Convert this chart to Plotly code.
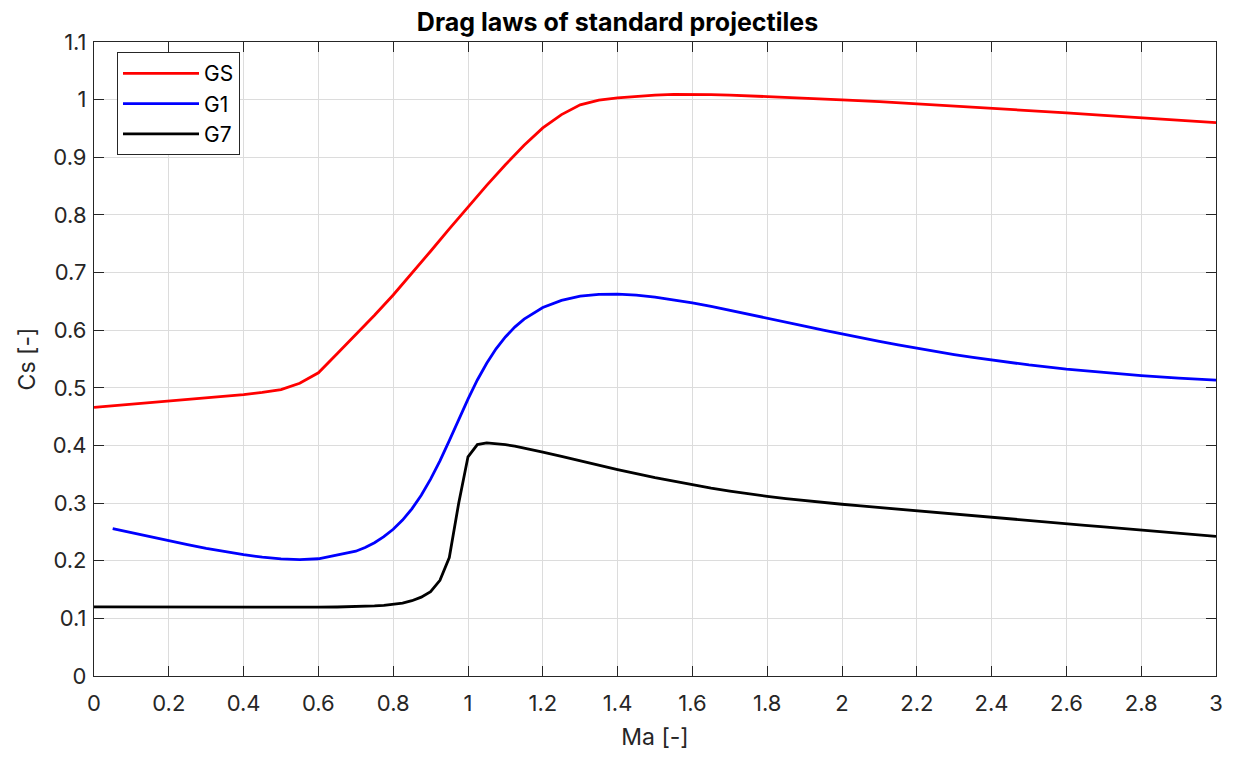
import plotly.graph_objects as go

# GS (standard sphere)
gs_ma = [0.00, 0.05, 0.10, 0.15, 0.20, 0.25, 0.30, 0.35, 0.40, 0.45, 0.50, 0.55, 0.60, 0.65,
         0.70, 0.75, 0.80, 0.85, 0.90, 0.95, 1.00, 1.05, 1.10, 1.15, 1.20, 1.25, 1.30, 1.35,
         1.40, 1.45, 1.50, 1.55, 1.60, 1.65, 1.70, 1.75, 1.80, 1.85, 1.90, 2.00, 2.10, 2.20,
         2.30, 2.40, 2.50, 2.60, 2.70, 2.80, 2.90, 3.00]
gs_cd = [0.4662, 0.4689, 0.4717, 0.4745, 0.4772, 0.4800, 0.4827, 0.4852, 0.4882, 0.4920,
         0.4970, 0.5080, 0.5260, 0.5590, 0.5920, 0.6258, 0.6610, 0.6985, 0.7370, 0.7757,
         0.8140, 0.8512, 0.8870, 0.9210, 0.9510, 0.9740, 0.9910, 0.9990, 1.0030, 1.0060,
         1.0080, 1.0090, 1.0092, 1.0088, 1.0080, 1.0064, 1.0050, 1.0035, 1.0020, 0.9997,
         0.9967, 0.9930, 0.9894, 0.9855, 0.9812, 0.9770, 0.9727, 0.9685, 0.9643, 0.9600]

# G1
g1_ma = [0.05, 0.10, 0.15, 0.20, 0.25, 0.30, 0.35, 0.40, 0.45, 0.50, 0.55, 0.60, 0.70,
         0.725, 0.75, 0.775, 0.80, 0.825, 0.85, 0.875, 0.90, 0.925, 0.95, 0.975, 1.00,
         1.025, 1.05, 1.075, 1.10, 1.125, 1.15, 1.20, 1.25, 1.30, 1.35, 1.40, 1.45, 1.50,
         1.55, 1.60, 1.65, 1.70, 1.75, 1.80, 1.85, 1.90, 1.95, 2.00, 2.05, 2.10, 2.15,
         2.20, 2.25, 2.30, 2.35, 2.40, 2.45, 2.50, 2.60, 2.70, 2.80, 2.90, 3.00]
g1_cd = [0.2558, 0.2487, 0.2413, 0.2344, 0.2278, 0.2214, 0.2155, 0.2104, 0.2061, 0.2032,
         0.2020, 0.2034, 0.2165, 0.2230, 0.2313, 0.2417, 0.2546, 0.2706, 0.2901, 0.3136,
         0.3415, 0.3734, 0.4084, 0.4448, 0.4805, 0.5136, 0.5427, 0.5677, 0.5883, 0.6053,
         0.6191, 0.6393, 0.6518, 0.6589, 0.6621, 0.6625, 0.6607, 0.6573, 0.6528, 0.6474,
         0.6413, 0.6347, 0.6280, 0.6210, 0.6141, 0.6072, 0.6003, 0.5934, 0.5867, 0.5804,
         0.5743, 0.5685, 0.5630, 0.5577, 0.5527, 0.5481, 0.5438, 0.5397, 0.5325, 0.5264,
         0.5211, 0.5168, 0.5133]

# G7
g7_ma = [0.00, 0.05, 0.10, 0.15, 0.20, 0.25, 0.30, 0.35, 0.40, 0.45, 0.50, 0.55, 0.60,
         0.65, 0.70, 0.725, 0.75, 0.775, 0.80, 0.825, 0.85, 0.875, 0.90, 0.925, 0.95,
         0.975, 1.00, 1.025, 1.05, 1.075, 1.10, 1.125, 1.15, 1.20, 1.25, 1.30, 1.35, 1.40,
         1.50, 1.55, 1.60, 1.65, 1.70, 1.75, 1.80, 1.85, 1.90, 1.95, 2.00, 2.05, 2.10,
         2.15, 2.20, 2.25, 2.30, 2.35, 2.40, 2.45, 2.50, 2.55, 2.60, 2.65, 2.70, 2.75,
         2.80, 2.85, 2.90, 2.95, 3.00]
g7_cd = [0.1198, 0.1197, 0.1196, 0.1194, 0.1193, 0.1194, 0.1194, 0.1194, 0.1193, 0.1193,
         0.1194, 0.1193, 0.1194, 0.1197, 0.1202, 0.1207, 0.1215, 0.1226, 0.1242, 0.1266,
         0.1306, 0.1368, 0.1464, 0.1660, 0.2054, 0.2993, 0.3803, 0.4015, 0.4043, 0.4034,
         0.4014, 0.3987, 0.3955, 0.3884, 0.3810, 0.3732, 0.3657, 0.3580, 0.3440, 0.3376,
         0.3315, 0.3260, 0.3209, 0.3160, 0.3117, 0.3078, 0.3042, 0.3010, 0.2980, 0.2951,
         0.2922, 0.2892, 0.2864, 0.2835, 0.2807, 0.2779, 0.2752, 0.2725, 0.2697, 0.2670,
         0.2643, 0.2615, 0.2588, 0.2561, 0.2533, 0.2506, 0.2479, 0.2451, 0.2424]

x_ticks = [0, 0.2, 0.4, 0.6, 0.8, 1, 1.2, 1.4, 1.6, 1.8, 2, 2.2, 2.4, 2.6, 2.8, 3]
x_labels = ["0", "0.2", "0.4", "0.6", "0.8", "1", "1.2", "1.4", "1.6", "1.8", "2",
            "2.2", "2.4", "2.6", "2.8", "3"]
y_ticks = [0, 0.1, 0.2, 0.3, 0.4, 0.5, 0.6, 0.7, 0.8, 0.9, 1, 1.1]
y_labels = ["0", "0.1", "0.2", "0.3", "0.4", "0.5", "0.6", "0.7", "0.8", "0.9", "1", "1.1"]

FONT = "Inter"
TITLE_FONT = "Inter"
AX = "#262626"

fig = go.Figure()
fig.add_trace(go.Scatter(x=gs_ma, y=gs_cd, mode="lines", name="GS",
                         line=dict(color="#ff0000", width=2.8)))
fig.add_trace(go.Scatter(x=g1_ma, y=g1_cd, mode="lines", name="G1",
                         line=dict(color="#0000ff", width=2.8)))
fig.add_trace(go.Scatter(x=g7_ma, y=g7_cd, mode="lines", name="G7",
                         line=dict(color="#000000", width=2.8)))

axis_common = dict(
    showgrid=True, gridcolor="#dcdcdc", gridwidth=1,
    showline=True, linecolor=AX, linewidth=1.2, mirror="ticks",
    ticks="inside", ticklen=10, tickcolor=AX, tickwidth=1,
    zeroline=False,
    tickfont=dict(family=FONT, size=22, color=AX),
)

fig.update_layout(
    width=1235, height=758,
    margin=dict(l=94, r=17, t=42, b=81),
    paper_bgcolor="white", plot_bgcolor="white",
    title=dict(text="<b>Drag laws of standard projectiles</b>", x=0.5, xanchor="center",
               y=0.971, yanchor="middle",
               font=dict(family=TITLE_FONT, size=25, color="#000000")),
    xaxis=dict(range=[0, 3], tickvals=x_ticks, ticktext=x_labels, ticklabelstandoff=7,
               title=dict(text="Ma [-]", font=dict(family=FONT, size=23, color=AX), standoff=14),
               **axis_common),
    yaxis=dict(range=[0, 1.1], tickvals=y_ticks, ticktext=y_labels, ticklabelstandoff=2,
               title=dict(text="Cs [-]", font=dict(family=FONT, size=23, color=AX), standoff=10),
               **axis_common),
    legend=dict(x=0.0205, y=0.984, xanchor="left", yanchor="top",
                bgcolor="white", bordercolor="#262626", borderwidth=1,
                font=dict(family=FONT, size=21, color="#000000"),
                itemwidth=76, tracegroupgap=0),
    showlegend=True,
)

fig.write_html("out.html")
